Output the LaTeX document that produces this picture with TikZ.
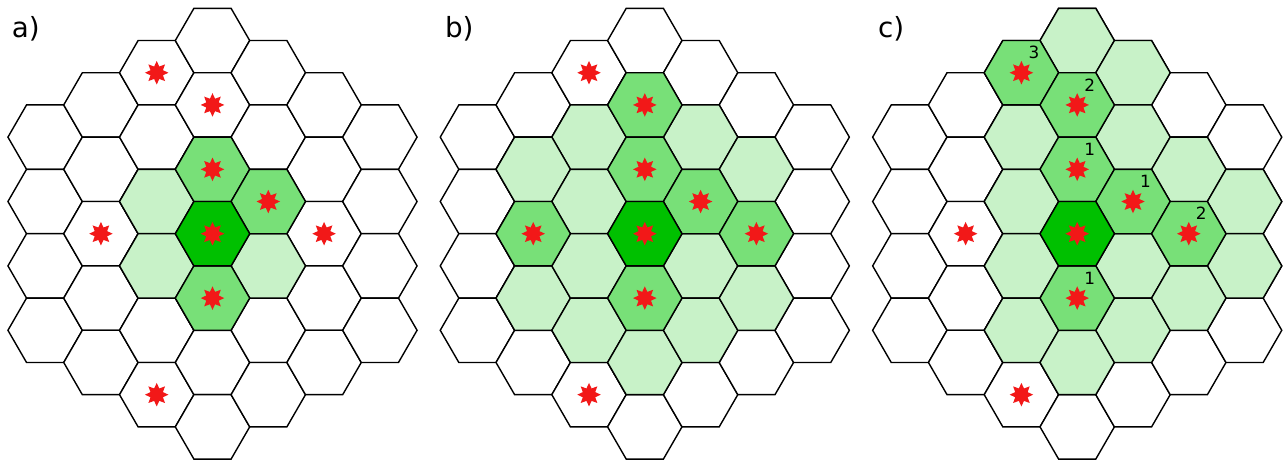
\documentclass[tikz,border=0pt]{standalone}
\usepackage{xcolor}
\usepackage{fontspec}
\setmainfont{DejaVu Sans}
\usepackage{tikz}
\usetikzlibrary{shapes.geometric,positioning}

\definecolor{lightgreen}{RGB}{200,242,200}
\definecolor{midgreen}{RGB}{120,224,120}
\definecolor{darkgreen}{RGB}{0,192,0}
\definecolor{starred}{RGB}{242,24,24}

\tikzset{
  hexcell/.style={regular polygon, regular polygon sides=6, minimum size=1.488cm,
    inner sep=0pt, outer sep=0pt, draw=black, line width=0.8pt, fill=white},
  redstar/.style={star, star points=8, star point ratio=1.75, minimum size=0.47cm,
    inner sep=0pt, fill=starred},
  hoplabel/.style={font=\fontsize{9.6}{10}\selectfont, inner sep=0pt},
  panellabel/.style={font=\fontsize{15.8}{17}\selectfont, inner sep=0pt, anchor=base west},
  hexaxes/.style={x={(1.116cm,-0.644cm)}, y={(0cm,-1.288cm)}}
}

\begin{document}
\begin{tikzpicture}[x=0.02cm, y=-0.02cm]
  \useasboundingbox (0,0) rectangle (1285,461);

  \node[panellabel] (la) at (11.5,37.5) {a)};
  \node[panellabel] (lb) at (444.7,37.5) {b)};
  \node[panellabel] (lc) at (877.7,37.5) {c)};

  % a
  \begin{scope}[shift={(212.5,233.7)}, hexaxes]
    \foreach \q in {-3,...,3}
      \foreach \r in {-3,...,3} {
        \pgfmathtruncatemacro\s{abs(\q+\r)}
        \ifnum\s<4 \node[hexcell] (a\q\r) at (\q,\r) {}; \fi
      }
    \foreach \q/\r in {-1/0,-1/1,1/0}
      \node[hexcell, fill=lightgreen] (al\q\r) at (a\q\r) {};
    \foreach \q/\r in {0/-1,1/-1,0/1}
      \node[hexcell, fill=midgreen] (am\q\r) at (a\q\r) {};
    \node[hexcell, fill=darkgreen] (ac) at (a00) {};
    \foreach \q/\r in {0/0,0/-1,1/-1,0/1,-1/-2,0/-2,-2/1,2/-1,-1/3}
      \node[redstar] (as\q\r) at (a\q\r) {};
  \end{scope}

  % b
  \begin{scope}[shift={(644.8,233.7)}, hexaxes]
    \foreach \q in {-3,...,3}
      \foreach \r in {-3,...,3} {
        \pgfmathtruncatemacro\s{abs(\q+\r)}
        \ifnum\s<4 \node[hexcell] (b\q\r) at (\q,\r) {}; \fi
      }
    \foreach \q/\r in {-1/-1,-2/0,-1/0,1/-2,2/-2,-2/2,-1/1,-1/2,0/2,1/0,1/1,2/0}
      \node[hexcell, fill=lightgreen] (bl\q\r) at (b\q\r) {};
    \foreach \q/\r in {0/-2,0/-1,1/-1,2/-1,-2/1,0/1}
      \node[hexcell, fill=midgreen] (bm\q\r) at (b\q\r) {};
    \node[hexcell, fill=darkgreen] (bc) at (b00) {};
    \foreach \q/\r in {0/0,0/-2,0/-1,1/-1,2/-1,-2/1,0/1,-1/-2,-1/3}
      \node[redstar] (bs\q\r) at (b\q\r) {};
  \end{scope}

  % c
  \begin{scope}[shift={(1077.2,233.7)}, hexaxes]
    \foreach \q in {-3,...,3}
      \foreach \r in {-3,...,3} {
        \pgfmathtruncatemacro\s{abs(\q+\r)}
        \ifnum\s<4 \node[hexcell] (c\q\r) at (\q,\r) {}; \fi
      }
    \foreach \q/\r in {0/-3,1/-3,-1/-1,1/-2,-1/0,2/-2,3/-2,3/-1,-1/1,1/0,-1/2,0/2,1/1,2/0}
      \node[hexcell, fill=lightgreen] (cl\q\r) at (c\q\r) {};
    \foreach \q/\r in {-1/-2,0/-2,0/-1,1/-1,2/-1,0/1}
      \node[hexcell, fill=midgreen] (cm\q\r) at (c\q\r) {};
    \node[hexcell, fill=darkgreen] (cc) at (c00) {};
    \foreach \q/\r in {0/0,-1/-2,0/-2,0/-1,1/-1,2/-1,0/1,-2/1,-1/3}
      \node[redstar] (cs\q\r) at (c\q\r) {};
    \foreach \q/\r/\n in {-1/-2/3,0/-2/2,0/-1/1,1/-1/1,2/-1/2,0/1/1}
      \node[hoplabel] (cn\q\r) at ([xshift=0.25cm, yshift=0.4cm]cs\q\r) {\n};
  \end{scope}
\end{tikzpicture}
\end{document}
